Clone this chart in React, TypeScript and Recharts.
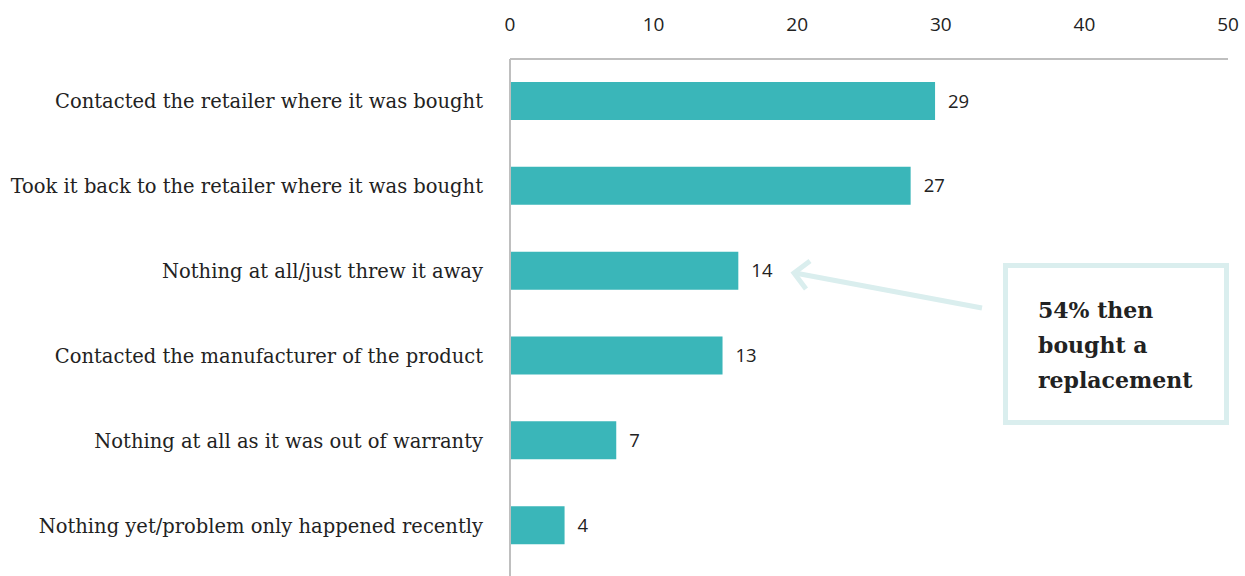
import React from "react";
import { BarChart, Bar, XAxis, YAxis, LabelList } from "recharts";

const categories = [
  "Contacted the retailer where it was bought",
  "Took it back to the retailer where it was bought",
  "Nothing at all/just threw it away",
  "Contacted the manufacturer of the product",
  "Nothing at all as it was out of warranty",
  "Nothing yet/problem only happened recently",
];
const shares = [29.6, 27.9, 15.9, 14.8, 7.4, 3.8];
const shareLabels = ["29", "27", "14", "13", "7", "4"];
const xTicks = [0, 10, 20, 30, 40, 50];
const calloutLines = ["54% then", "bought a", "replacement"];

const data = categories.map((name, i) => ({ name, value: shares[i], label: shareLabels[i] }));

const BAR = "#3AB6B9";
const PALE = "#DAEEEE";
const SANS = "'Open Sans', 'Noto Sans', sans-serif";
const SERIF = "'DejaVu Serif', serif";

export default function App() {
  return (
    <div style={{ position: "absolute", left: 0, top: 0, width: 1245, height: 576, background: "#fff" }}>
      <BarChart
        width={1245}
        height={576}
        data={data}
        layout="vertical"
        margin={{ top: 0, right: 17, bottom: 0, left: 0 }}
        barCategoryGap={0}
      >
        <XAxis
          type="number"
          orientation="top"
          domain={[0, 50]}
          ticks={xTicks}
          height={59}
          axisLine={{ stroke: "#BFBFBF", strokeWidth: 2 }}
          tickLine={false}
          tickSize={0}
          tickMargin={28}
          tick={{ fill: "#222", fontSize: 19, fontFamily: SANS }}
          interval={0}
        />
        <YAxis
          type="category"
          dataKey="name"
          width={510}
          padding={{ top: 0, bottom: 8 }}
          axisLine={{ stroke: "#BFBFBF", strokeWidth: 2 }}
          tickLine={false}
          tickSize={0}
          tickMargin={27}
          tick={{ fill: "#222", fontSize: 19.5, fontFamily: SERIF }}
          interval={0}
        />
        <Bar dataKey="value" fill={BAR} barSize={38} isAnimationActive={false}>
          <LabelList dataKey="label" position="right" offset={13} fill="#222" fontSize={18.5} fontFamily={SANS} />
        </Bar>
      </BarChart>
      <svg
        width={1245}
        height={576}
        style={{ position: "absolute", left: 0, top: 0, pointerEvents: "none" }}
      >
        <line x1={982} y1={308} x2={795} y2={273} stroke={PALE} strokeWidth={5} />
        <polyline points="810,261 794,273 806,289" fill="none" stroke={PALE} strokeWidth={5} />
      </svg>
      <div
        style={{
          position: "absolute",
          left: 1003,
          top: 263,
          width: 216,
          height: 152,
          border: `5px solid ${PALE}`,
          boxSizing: "content-box",
          fontFamily: SERIF,
          fontWeight: 700,
          fontSize: 22,
          lineHeight: "35px",
          color: "#222",
        }}
      >
        <div style={{ position: "absolute", left: 30, top: 25 }}>
          {calloutLines.map((t) => (
            <div key={t}>{t}</div>
          ))}
        </div>
      </div>
    </div>
  );
}
